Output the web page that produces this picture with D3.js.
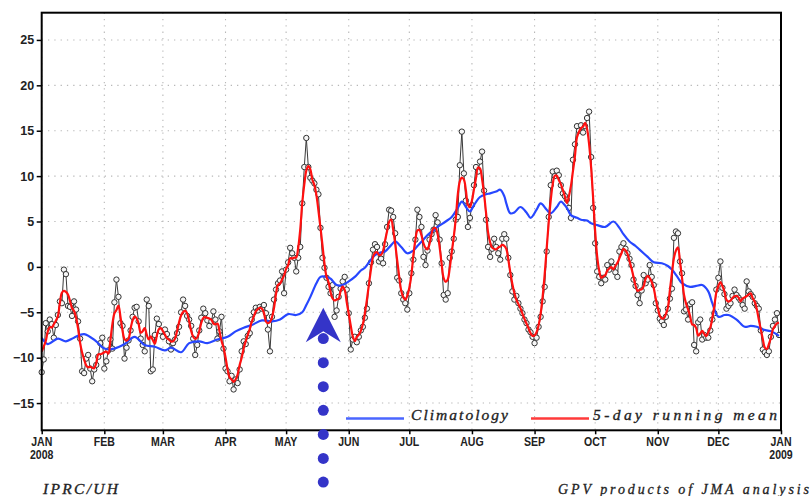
<!DOCTYPE html>
<html><head><meta charset="utf-8">
<script src="https://cdn.jsdelivr.net/npm/d3@7"></script>
<style>
html,body{margin:0;padding:0;background:#fff;}
svg{display:block;}
</style></head><body>
<svg id="chart" width="812" height="496"></svg>
<script>
// ---- daily values (2008), one array per month ----
const jan = [-11.6,-10.2,-6.2,-7.1,-5.8,-6.3,-7.8,-6.4,-5.3,-3.8,-4.0,-0.3,-0.8,-4.3,-4.4,-5.4,-3.8,-4.7,-6.0,-7.9,-11.5,-11.7,-10.1,-9.7,-11.2,-12.6,-11.3,-10.8,-9.9,-8.4,-7.8];
const feb = [-11.2,-10.4,-9.2,-8.0,-9.0,-3.9,-1.4,-3.3,-6.2,-6.5,-10.1,-8.9,-8.1,-7.0,-5.5,-4.5,-4.4,-6.0,-7.9,-8.6,-9.3,-3.6,-4.3,-11.5,-11.3,-7.5,-5.7,-6.3,-7.1];
const mar = [-7.7,-6.9,-7.4,-8.2,-9.1,-8.4,-8.0,-7.3,-6.6,-5.0,-3.6,-4.3,-5.4,-5.8,-6.5,-7.9,-9.7,-8.6,-7.0,-5.6,-4.6,-5.1,-5.9,-6.5,-6.0,-4.9,-5.8,-7.9,-7.1,-5.5,-9.0];
const apr = [-11.2,-11.5,-12.6,-12.0,-13.5,-12.4,-12.8,-11.3,-9.3,-8.2,-8.5,-7.6,-7.3,-5.8,-5.0,-4.5,-4.8,-4.4,-4.6,-4.2,-5.1,-6.9,-9.3,-5.5,-3.6,-2.5,-1.8,-1.5,-0.5,-2.9];
const may = [-0.3,0.5,2.1,1.5,1.0,-0.5,1.0,2.2,7.0,11.0,14.2,11.0,9.8,9.5,9.2,8.5,8.0,4.3,1.0,-0.1,-1.2,-2.2,-2.9,-2.0,-5.5,-4.8,-3.3,-2.4,-1.6,-1.1,-2.5];
const jun = [-5.1,-9.1,-8.0,-7.7,-8.3,-7.7,-7.0,-6.6,-5.6,-4.6,-1.8,0.5,1.9,2.5,2.2,0.6,0.9,0.4,2.5,4.4,6.3,6.2,5.5,3.7,-1.2,-1.5,-2.9,-3.6,-4.0,-4.7];
const jul = [-2.9,-0.7,0.8,3.0,6.3,5.5,4.4,1.1,0.2,1.8,3.0,3.6,4.1,5.7,4.9,3.0,0.4,-3.1,-3.6,-2.9,1.0,1.7,3.1,5.2,5.5,11.2,14.9,10.3,7.3,4.4,5.4];
const aug = [6.8,9.0,11.0,10.5,11.6,12.7,8.4,5.2,2.2,1.1,2.0,3.1,2.2,1.5,0.8,3.1,3.6,3.1,1.0,-0.9,-2.7,-3.6,-3.2,-4.0,-4.6,-5.1,-5.8,-6.2,-6.9,-7.2,-7.7];
const sep = [-8.4,-7.8,-6.6,-5.5,-3.8,-2.2,1.7,5.5,9.0,10.5,10.0,10.6,10.1,9.0,8.1,7.8,7.4,6.5,5.4,11.8,13.5,15.5,15.0,15.6,14.8,15.5,16.4,17.1,12.1,6.5];
const oct = [2.6,-0.5,-1.1,-1.8,-1.2,-1.4,0.2,-0.3,0.6,0.0,-0.6,-1.1,1.7,2.2,2.6,2.0,1.5,0.9,0.2,-1.4,-2.1,-3.1,-4.0,-2.6,-0.9,-1.8,-1.4,0.2,-1.1,-2.0,-4.0];
const nov = [-4.8,-5.7,-6.0,-6.4,-5.5,-4.6,-3.5,-2.4,3.2,3.9,3.7,0.6,-0.7,-4.9,-4.7,-5.8,-4.1,-3.9,-8.6,-9.3,-6.1,-5.8,-8.0,-7.5,-7.8,-7.8,-7.0,-5.8,-5.1,-2.5];
const dec = [-1.2,0.6,-2.3,-3.0,-4.6,-4.3,-4.0,-3.2,-2.5,-3.1,-3.4,-3.7,-4.2,-4.6,-1.6,-2.7,-3.0,-3.3,-4.0,-4.3,-4.6,-7.0,-9.1,-9.4,-9.7,-9.3,-7.7,-6.5,-5.8,-5.1,-7.5];

// ---- climatology (day of year, value) ----
const climDays = [0,3,8,12,16,21,27,31,36,41,46,51,56,61,64,69,73,78,82,87,92,96,100,104,109,114,118,122,126,129,131,133,136,138,141,143,146,149,152,155,158,160,163,165,168,170,173,175,178,181,184,186,189,191,194,196,200,203,206,208,210,212,214,217,220,222,225,227,229,230,232,234,237,240,242,245,247,250,252,255,257,260,262,265,267,270,272,275,279,283,286,288,291,294,296,300,303,307,310,312,315,317,321,324,327,330,332,335,338,340,344,348,351,354,357,361,365];
const climValues = [-7.8,-8.5,-7.9,-8.2,-7.8,-7.4,-8.2,-9.0,-9.0,-8.5,-7.7,-8.6,-8.8,-9.2,-8.9,-9.4,-8.4,-8.2,-8.4,-8.0,-7.7,-7.1,-6.7,-6.4,-5.9,-6.0,-5.8,-5.2,-5.3,-5.0,-4.2,-3.3,-1.8,-1.1,-1.1,-1.3,-2.0,-2.0,-1.6,-1.1,-0.4,-0.1,0.8,1.3,1.6,1.7,2.4,2.8,2.2,1.5,1.8,2.3,3.0,3.5,4.0,4.4,5.0,5.5,6.5,7.2,6.6,6.1,6.8,7.7,8.0,8.1,8.3,8.5,7.8,7.0,5.9,6.0,6.6,6.0,5.4,6.3,7.0,6.3,5.9,6.6,7.2,6.5,5.7,5.4,5.2,5.1,4.8,4.6,4.4,5.0,4.3,3.6,2.8,2.3,1.9,1.1,0.5,0.4,0.1,-0.3,-1.2,-1.8,-2.2,-2.1,-2.0,-2.7,-4.0,-5.5,-5.3,-5.3,-5.8,-6.6,-6.5,-6.6,-6.9,-7.1,-7.6];

// ---- axis labels ----
const monthLabels = ["JAN","FEB","MAR","APR","MAY","JUN","JUL","AUG","SEP","OCT","NOV","DEC","JAN"];
const yearLabels  = ["2008","","","","","","","","","","","","2009"];
const yTicks = [25,20,15,10,5,0,-5,-10,-15];
const legendLabels = ["Climatology","5-day running mean"];
const leftNote = "IPRC/UH";
const rightNote = "GPV products of JMA analysis";
// annotation arrow (day of year, value of tip)
const arrowDay = 139.4, arrowTip = -4.5, arrowDots = [-7.9,-10.55,-13.2,-15.8,-18.45,-21.1,-23.7];

// ---- build ----
const svg = d3.select("#chart");
const start = new Date(Date.UTC(2008,0,1)), end = new Date(Date.UTC(2009,0,1));
const dayDate = d => new Date(Date.UTC(2008,0,1) + d*86400000);
const x = d3.scaleUtc().domain([start,end]).range([41.7,781]);
const y = d3.scaleLinear().domain([-18,28]).range([430.3,12.7]);
const X0 = x.range()[0], X1 = x.range()[1], Y0 = y.range()[1], Y1 = y.range()[0];

const values = [].concat(jan,feb,mar,apr,may,jun,jul,aug,sep,oct,nov,dec);
const daily = values.map((v,i)=>({date:dayDate(i), value:v}));
const running = daily.map((d,i)=>{
  const w = values.slice(Math.max(0,i-2), Math.min(values.length,i+3));
  return {date:d.date, value:d3.mean(w)};
});
const clim = climDays.map((d,i)=>({date:dayDate(d), value:climValues[i]}));
const months = d3.utcMonth.range(start, d3.utcDay.offset(end,1));

// grid
const grid = svg.append("g").attr("stroke","#b8b8b8").attr("stroke-width",1.1).attr("stroke-dasharray","1.3,5");
grid.selectAll("line.h").data(yTicks).join("line")
  .attr("x1",X0).attr("x2",X1).attr("y1",d=>y(d)).attr("y2",d=>y(d));
grid.selectAll("line.v").data(months).join("line")
  .attr("x1",d=>x(d)).attr("x2",d=>x(d)).attr("y1",Y0).attr("y2",Y1);

// daily series
svg.append("path").datum(daily)
  .attr("fill","none").attr("stroke","#3a3a3a").attr("stroke-width",1)
  .attr("d", d3.line().x(d=>x(d.date)).y(d=>y(d.value)));
svg.append("g").selectAll("circle").data(daily).join("circle")
  .attr("cx",d=>x(d.date)).attr("cy",d=>y(d.value)).attr("r",2.7)
  .attr("fill","#f6f6f6").attr("stroke","#333").attr("stroke-width",1);

// climatology & running mean
svg.append("path").datum(clim)
  .attr("fill","none").attr("stroke","#2747ff").attr("stroke-width",2.2)
  .attr("d", d3.line().curve(d3.curveCatmullRom).x(d=>x(d.date)).y(d=>y(d.value)));
svg.append("path").datum(running)
  .attr("fill","none").attr("stroke","#ff1010").attr("stroke-width",2.2)
  .attr("d", d3.line().curve(d3.curveCatmullRom).x(d=>x(d.date)).y(d=>y(d.value)));

// frame
svg.append("rect").attr("x",X0).attr("y",Y0).attr("width",X1-X0).attr("height",Y1-Y0)
  .attr("fill","none").attr("stroke","#000").attr("stroke-width",2);

// y axis
const yAxis = svg.append("g").attr("transform",`translate(${X0},0)`)
  .call(d3.axisLeft(y).tickValues(yTicks).tickSize(5).tickPadding(2.5)
    .tickFormat(d => d<0 ? "\u2212"+Math.abs(d) : String(d)));
yAxis.select(".domain").remove();
yAxis.selectAll("line").attr("stroke","#000").attr("stroke-width",1.5);
yAxis.selectAll("text").attr("font-family","Liberation Sans, Arial, sans-serif")
  .attr("font-weight","bold").attr("font-size",12.5).attr("fill","#222");

// x axis
const xAxis = svg.append("g").attr("transform",`translate(0,${Y1})`)
  .call(d3.axisBottom(x).tickValues(months).tickSize(4).tickFormat(""));
xAxis.select(".domain").remove();
xAxis.selectAll("line").attr("stroke","#000").attr("stroke-width",1.5);
const xl = svg.append("g").selectAll("g").data(months).join("g")
  .attr("transform",d=>`translate(${x(d)},0)`);
const lab = xl.append("g").attr("transform","scale(0.88,1)")
  .attr("font-family","Liberation Sans, Arial, sans-serif").attr("font-weight","bold")
  .attr("font-size",12).attr("fill","#222").attr("text-anchor","middle");
lab.append("text").attr("y",446).text((d,i)=>monthLabels[i]);
lab.filter((d,i)=>yearLabels[i]!=="").append("text").attr("y",459.5)
  .text(function(d){ return yearLabels[months.indexOf(d)]; });

// legend
const legY = y(-16.7);
const serif = "Liberation Serif, serif";
const leg = [
  {c:"#4a66ff", x1:346, x2:404, tx:411, tl:97, t:legendLabels[0]},
  {c:"#ff3a3a", x1:531, x2:589, tx:593, tl:184, t:legendLabels[1]}
];
leg.forEach(l=>{
  svg.append("line").attr("x1",l.x1).attr("x2",l.x2).attr("y1",legY).attr("y2",legY)
    .attr("stroke",l.c).attr("stroke-width",2.5);
  svg.append("text").attr("x",l.tx).attr("y",legY+1.5).text(l.t)
    .attr("font-family",serif).attr("font-style","italic")
    .attr("font-size",15.5).attr("fill","#222").attr("stroke","#222").attr("stroke-width",0.35)
    .attr("textLength",l.tl).attr("lengthAdjust","spacing");
});

// notes
svg.append("text").attr("x",43).attr("y",494).text(leftNote)
  .attr("font-family",serif).attr("font-style","italic")
  .attr("font-size",15.5).attr("fill","#222").attr("stroke","#222").attr("stroke-width",0.35)
  .attr("textLength",75).attr("lengthAdjust","spacing");
svg.append("text").attr("x",558).attr("y",494).text(rightNote)
  .attr("font-family",serif).attr("font-style","italic")
  .attr("font-size",14).attr("fill","#222").attr("stroke","#222").attr("stroke-width",0.3)
  .attr("textLength",251).attr("lengthAdjust","spacing");

// arrow annotation
const ax = x(dayDate(arrowDay)), ty = y(arrowTip);
const ac = "#3434c8";
svg.append("g").selectAll("circle").data(arrowDots).join("circle")
  .attr("cx",ax).attr("cy",d=>y(d)).attr("r",5.5).attr("fill",ac);
svg.append("path")
  .attr("d",`M${ax},${ty} L${ax+17.5},${ty+34.5} L${ax},${ty+23.5} L${ax-17.5},${ty+34.5} Z`)
  .attr("fill",ac);
</script>
</body></html>
